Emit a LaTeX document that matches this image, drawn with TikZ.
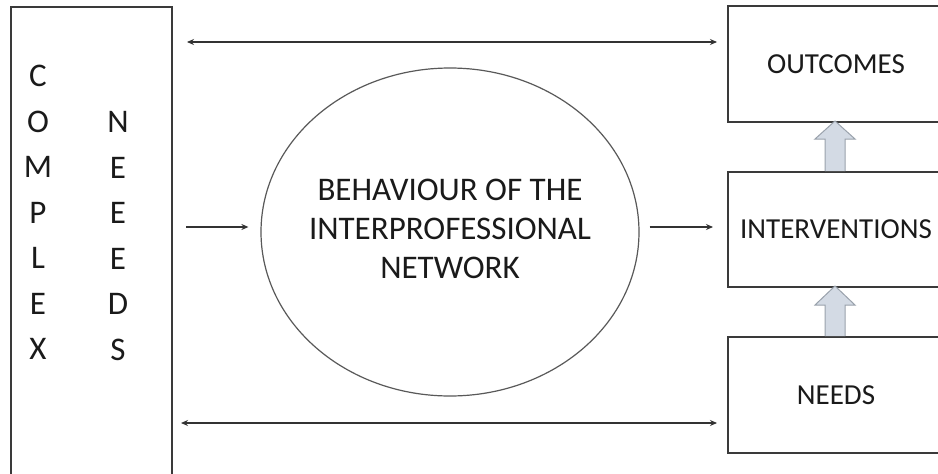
\documentclass[tikz,border=0pt]{standalone}
\usepackage{fontspec}
\setmainfont{Carlito}
\usetikzlibrary{shapes.geometric,arrows.meta,calc}
\definecolor{boxline}{HTML}{3A3A3A}
\definecolor{txt}{HTML}{1A1A1A}
\definecolor{blockfill}{HTML}{D3DAE4}
\definecolor{blockline}{HTML}{9AA2AC}
\tikzset{
  box/.style={draw=boxline, line width=2pt, fill=white, inner sep=0pt, text=txt,
    font=\fontsize{29}{34}\selectfont},
  vletters/.style={text=txt, align=center, inner sep=0pt, font=\fontsize{33}{45.5}\selectfont},
  oval/.style={ellipse, draw=black!65, line width=1.2pt, inner sep=0pt},
  ovaltext/.style={text=txt, align=center, inner sep=0pt, font=\fontsize{33}{39}\selectfont},
  conn/.style={draw=black!80, line width=1.5pt, -{Stealth[length=7pt,width=6pt]}},
  biconn/.style={draw=black!80, line width=1.5pt, {Stealth[length=7pt,width=6pt]}-{Stealth[length=7pt,width=6pt]}},
  blockarrow/.style={draw=blockline, line width=1pt, fill=blockfill, line join=miter},
}
\begin{document}
\begin{tikzpicture}[x=1pt,y=-1pt]
\clip (0,0) rectangle (938,474);
\fill[white] (0,0) rectangle (938,474);
% left box
\node[box, minimum width=161pt, minimum height=480pt] (cn) at (91.5,247) {};
\node[vletters] (c1) at (38,212.5) {C\\O\\M\\P\\L\\E\\X};
\node[vletters] (c2) at (118,236) {N\\E\\E\\E\\D\\S};
% right boxes
\node[box, minimum width=216pt, minimum height=116pt] (out) at (836,64) {OUTCOMES};
\node[box, minimum width=216pt, minimum height=115pt] (int) at (836,229.5) {INTERVENTIONS};
\node[box, minimum width=216pt, minimum height=116pt] (need) at (836,395) {NEEDS};
% ellipse
\node[oval, minimum width=378pt, minimum height=328pt] (ell) at (450,232) {};
\node[ovaltext] (ellt) at (450,229) {BEHAVIOUR OF THE\\INTERPROFESSIONAL\\NETWORK};
% block arrows
\draw[blockarrow] ($(int.north)+(-1,0)$) ++(-10,0) -- ++(0,-32) -- ++(-10,0) -- ++(20,-18)
  -- ++(20,18) -- ++(-10,0) -- ++(0,32);
\draw[blockarrow] ($(need.north)+(-1,0)$) ++(-10,0) -- ++(0,-31) -- ++(-10,0) -- ++(20,-19)
  -- ++(20,19) -- ++(-10,0) -- ++(0,31);
% connectors
\coordinate (ta) at (cn.east |- 0,42);
\coordinate (tb) at (out.west |- 0,42);
\draw[biconn, shorten <=14pt, shorten >=10pt] (ta) -- (tb);
\coordinate (ba) at (cn.east |- 0,423);
\coordinate (bb) at (need.west |- 0,423);
\draw[biconn, shorten <=8pt, shorten >=10pt] (ba) -- (bb);
\coordinate (ma) at (cn.east |- 0,227);
\coordinate (mb) at (ell.west |- 0,227);
\draw[conn, shorten <=13pt, shorten >=12pt] (ma) -- (mb);
\coordinate (mc) at (ell.east |- 0,227);
\coordinate (md) at (int.west |- 0,227);
\draw[conn, shorten <=10pt, shorten >=14pt] (mc) -- (md);
\end{tikzpicture}
\end{document}
